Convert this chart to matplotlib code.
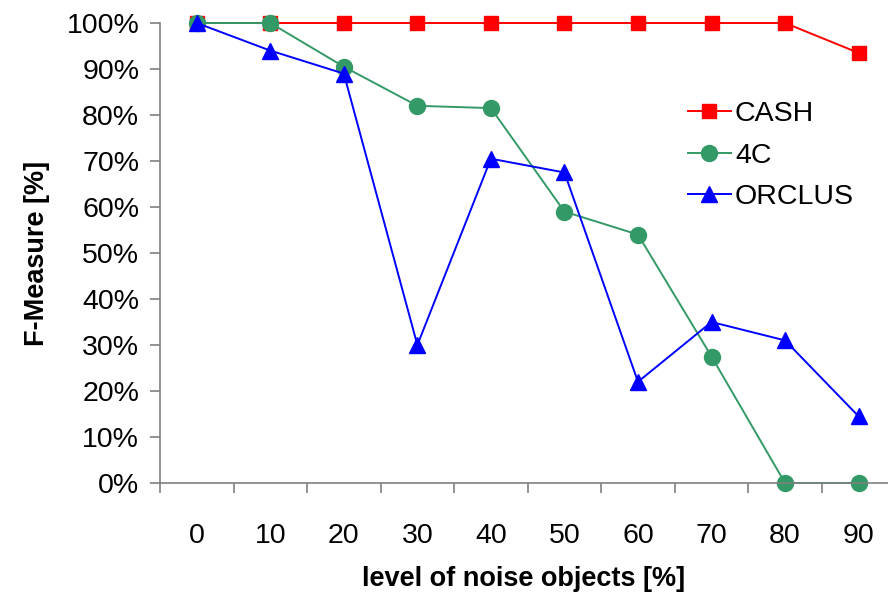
import matplotlib.pyplot as plt
import numpy as np

noise_levels = ['0', '10', '20', '30', '40', '50', '60', '70', '80', '90']
cash = [100, 100, 100, 100, 100, 100, 100, 100, 100, 93.5]
four_c = [100, 100, 90.5, 82, 81.5, 59, 54, 27.5, 0, 0]
orclus = [100, 94, 89, 30, 70.5, 67.5, 22, 35, 31, 14.5]

plt.rcParams['font.family'] = ['Liberation Sans', 'DejaVu Sans']

fig = plt.figure(figsize=(8.88, 5.92), dpi=100)
ax = fig.add_axes([160 / 888, 1 - 483 / 592, 728 / 888, 460 / 592])

x = np.arange(len(noise_levels))
ax.plot(x, cash, color='#ff0000', marker='s', markersize=10.5, lw=1.4, label='CASH', clip_on=False)
ax.plot(x, four_c, color='#339966', marker='o', markersize=11.5, lw=1.4, label='4C', clip_on=False)
ax.plot(x, orclus, color='#0000ff', marker='^', markersize=11.5, lw=1.4, label='ORCLUS', clip_on=False)

ax.set_xlim(-0.5, 9.4)
ax.set_ylim(0, 100)

# category axis: ticks between categories, labels at centers
ax.set_xticks(np.arange(-0.5, 9, 1.0))
ax.set_xticklabels([])
ax.set_xticks(x, minor=True)
ax.set_xticklabels(noise_levels, minor=True)
ax.tick_params(axis='x', which='major', direction='out', length=7, width=1.2, color='#808080')
ax.tick_params(axis='x', which='minor', length=0, pad=29, labelsize=20.5)

ax.set_yticks(np.arange(0, 101, 10))
ax.set_yticklabels([f'{v}%' for v in range(0, 101, 10)])
ax.tick_params(axis='y', direction='out', length=7, width=1.2, color='#808080', pad=8, labelsize=20.5)

for side in ['top', 'right']:
    ax.spines[side].set_visible(False)
for side in ['left', 'bottom']:
    ax.spines[side].set_color('#808080')
    ax.spines[side].set_linewidth(1.2)

ax.set_xlabel('level of noise objects [%]', fontsize=19.5, fontweight='bold', labelpad=12)
ax.set_ylabel('F-Measure [%]', fontsize=19.5, fontweight='bold', labelpad=12)

ax.legend(loc='upper left', bbox_to_anchor=(688 / 888, 1 - 101 / 592), bbox_transform=fig.transFigure,
          frameon=False, fontsize=20.5, handlelength=1.5, handletextpad=0.15, labelspacing=0.55,
          borderaxespad=0, borderpad=0)

fig.savefig('out.png', dpi=100)
